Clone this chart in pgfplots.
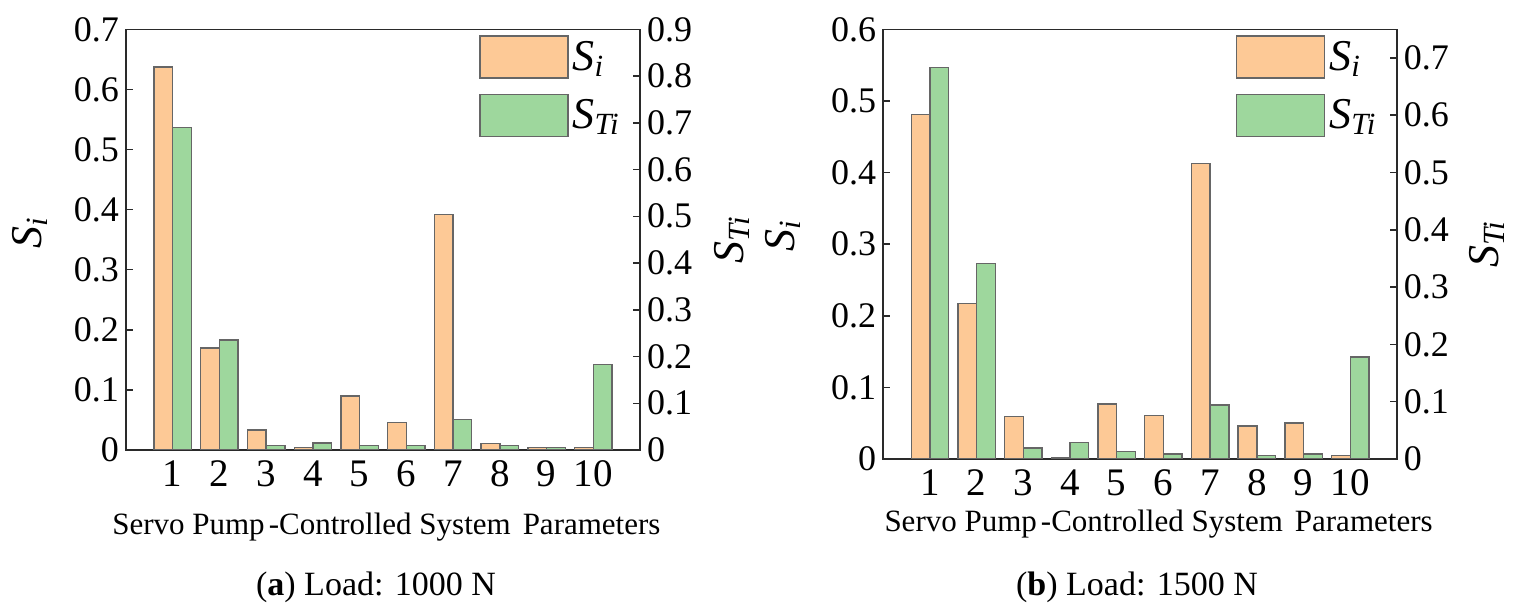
\documentclass[border=0pt]{standalone}
\usepackage{fontspec}
\setmainfont{Liberation Serif}
\usepackage{pgfplots}
\pgfplotsset{compat=1.18}
\definecolor{orgfill}{HTML}{FDC996}
\definecolor{grnfill}{HTML}{9ED79D}
\definecolor{edge}{HTML}{666666}
\definecolor{framec}{HTML}{2A2A2A}
\newcommand{\Si}{\textit{S}\textsubscript{\textit{i}}}
\newcommand{\STi}{\textit{S}\textsubscript{\textit{Ti}}}
\pgfplotsset{
  base/.style={scale only axis, xmin=0, xmax=11, ymin=0,
    tick align=inside, major tick length=3.5pt,
    /pgf/number format/assume math mode=true,
    axis line style={framec, line width=0.75pt},
    major tick style={framec, line width=0.75pt},
    tick label style={font=\fontsize{18}{18}\selectfont},
    label style={font=\fontsize{22}{22}\selectfont},
    legend image code/.code={\draw[##1] (0pt,-10.5pt) rectangle (44pt,10.5pt);},
  },
  orbar/.style={ybar, bar width=0.4, bar shift=-0.2, fill=orgfill, draw=edge, line width=0.7pt},
  grbar/.style={ybar, bar width=0.4, bar shift=0.2, fill=grnfill, draw=edge, line width=0.7pt},
  lgd/.style={legend style={at={(axis description cs:#1)}, anchor=north west, draw=none, fill=none,
      inner sep=0pt, row sep=7.5pt, font=\fontsize{22}{22}\selectfont}, legend cell align=left},
  xpart/.style={xtick={1,2,3,4,5,6,7,8,9,10}, xtick pos=bottom, x tick style={draw=none},
      xticklabel style={font=\fontsize{19.5}{19.5}\selectfont, yshift=-1.85pt}},
}
\begin{document}
\begin{tikzpicture}
\useasboundingbox (0,0) rectangle (759pt,-306.5pt);
% ---------- panel (a) ----------
\begin{axis}[base, xpart, at={(63pt,-225pt)}, anchor=south west, width=257pt, height=210.35pt,
  ymax=0.7, ytick={0,0.1,0.2,0.3,0.4,0.5,0.6,0.7}, ytick pos=left,
  xlabel={Servo Pump\kern2pt-Controlled System\hspace{6pt}Parameters},
  xlabel style={at={([yshift=-42pt]axis description cs:0.5066,0)}, anchor=base, font=\fontsize{15.5}{15.5}\selectfont},
  ylabel={\Si}, ylabel style={at={([xshift=-48pt]axis description cs:0,0.516)}, anchor=center}]
\addplot[orbar] coordinates {(1,0.637) (2,0.170) (3,0.033) (4,0.004) (5,0.090) (6,0.046) (7,0.392) (8,0.011) (9,0.004) (10,0.004)};
\end{axis}
\begin{axis}[base, at={(63pt,-225pt)}, anchor=south west, width=257pt, height=210.35pt,
  ymax=0.9, ytick={0,0.1,0.2,0.3,0.4,0.5,0.6,0.7,0.8,0.9}, axis y line*=right, axis x line=none,
  ylabel={\STi}, ylabel style={at={([xshift=46pt]axis description cs:1,0.5)}, anchor=center},
  lgd={0.6864,0.9865}]
\addlegendimage{orbar}
\addlegendentry{\Si}
\addplot[grbar] coordinates {(1,0.690) (2,0.235) (3,0.009) (4,0.015) (5,0.009) (6,0.009) (7,0.065) (8,0.009) (9,0.005) (10,0.183)};
\addlegendentry{\STi}
\end{axis}
% ---------- panel (b) ----------
\begin{axis}[base, xpart, at={(441.6pt,-229.5pt)}, anchor=south west, width=256.85pt, height=214.85pt,
  ymax=0.6, ytick={0,0.1,0.2,0.3,0.4,0.5,0.6}, ytick pos=left,
  xlabel={Servo Pump\kern2pt-Controlled System\hspace{6pt}Parameters},
  xlabel style={at={([yshift=-36pt]axis description cs:0.536,0)}, anchor=base, font=\fontsize{15.5}{15.5}\selectfont},
  ylabel={\Si}, ylabel style={at={([xshift=-50pt]axis description cs:0,0.52)}, anchor=center}]
\addplot[orbar] coordinates {(1,0.481) (2,0.217) (3,0.059) (4,0.002) (5,0.077) (6,0.061) (7,0.413) (8,0.046) (9,0.050) (10,0.005)};
\end{axis}
\begin{axis}[base, at={(441.6pt,-229.5pt)}, anchor=south west, width=256.85pt, height=214.85pt,
  ymax=0.75, ytick={0,0.1,0.2,0.3,0.4,0.5,0.6,0.7}, axis y line*=right, axis x line=none,
  ylabel={\STi}, ylabel style={at={([xshift=45pt]axis description cs:1,0.5)}, anchor=center},
  lgd={0.686,0.9867}]
\addlegendimage{orbar}
\addlegendentry{\Si}
\addplot[grbar] coordinates {(1,0.683) (2,0.341) (3,0.019) (4,0.029) (5,0.013) (6,0.009) (7,0.094) (8,0.006) (9,0.009) (10,0.178)};
\addlegendentry{\STi}
\end{axis}
\node[anchor=base, font=\fontsize{17}{17}\selectfont] at (188pt,-297.5pt) {(\textbf{a}) Load: 1000 N};
\node[anchor=base, font=\fontsize{17}{17}\selectfont] at (568.5pt,-297.5pt) {(\textbf{b}) Load: 1500 N};
\end{tikzpicture}
\end{document}
